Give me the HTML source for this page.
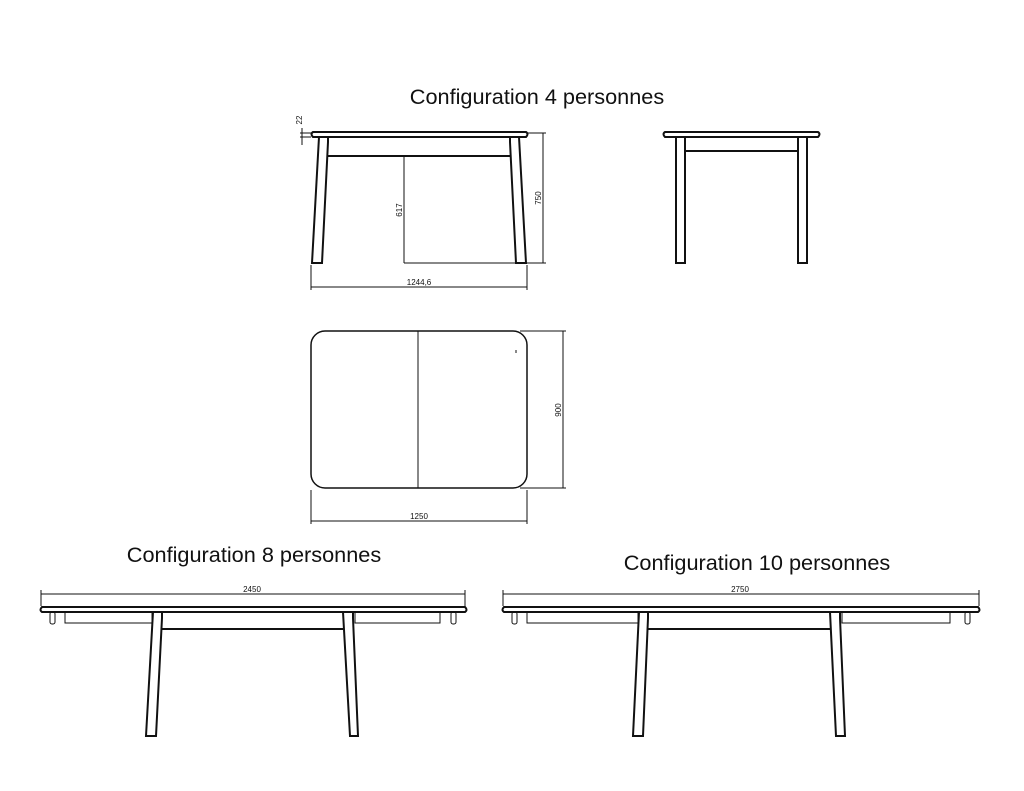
<!DOCTYPE html>
<html><head><meta charset="utf-8"><style>
html,body{margin:0;padding:0;background:#fff}
svg{display:block}
text{font-family:"Liberation Sans",sans-serif;fill:#111}
</style></head><body>
<svg width="1024" height="791" viewBox="0 0 1024 791" xmlns="http://www.w3.org/2000/svg">
<g fill="none" stroke="#111" stroke-width="1">
<text x="537" y="104" font-size="21.7" text-anchor="middle" stroke="none">Configuration 4 personnes</text>
<text x="254" y="562" font-size="21.7" text-anchor="middle" stroke="none">Configuration 8 personnes</text>
<text x="757" y="570" font-size="21.7" text-anchor="middle" stroke="none">Configuration 10 personnes</text>

<!-- front 4p -->
<path d="M313 132 H526 Q529 134 526 137 H313 Q310 134 313 132Z" stroke-width="2"/>
<path d="M319 137 L312 263 H322 L328 142 L328 137 Z" stroke-width="2"/>
<path d="M519 137 L526 263 H516 L510 142 L510 137 Z" stroke-width="2"/>
<line x1="328" y1="156" x2="510" y2="156" stroke-width="2"/>
<line x1="404" y1="157" x2="404" y2="263"/><line x1="404" y1="263" x2="516" y2="263"/>
<text x="402" y="210" font-size="8" transform="rotate(-90 402 210)" text-anchor="middle" stroke="none">617</text>
<line x1="528" y1="133" x2="546" y2="133"/><line x1="526" y1="263" x2="546" y2="263"/>
<line x1="543" y1="133" x2="543" y2="263"/>
<text x="541" y="198" font-size="8" transform="rotate(-90 541 198)" text-anchor="middle" stroke="none">750</text>
<line x1="311" y1="265" x2="311" y2="290"/><line x1="527" y1="265" x2="527" y2="290"/>
<line x1="311" y1="287" x2="527" y2="287"/>
<text x="419" y="285" font-size="8" text-anchor="middle" stroke="none">1244,6</text>
<line x1="302" y1="128" x2="302" y2="145"/><line x1="300" y1="133" x2="311" y2="133"/><line x1="300" y1="137" x2="311" y2="137"/>
<text x="302" y="120" font-size="8" transform="rotate(-90 302 120)" text-anchor="middle" stroke="none">22</text>

<!-- side -->
<path d="M665 132 H818 Q821 134 818 137 H665 Q662 134 665 132Z" stroke-width="2"/>
<rect x="676" y="137" width="9" height="126" stroke-width="2"/>
<rect x="798" y="137" width="9" height="126" stroke-width="2"/>
<line x1="685" y1="151" x2="798" y2="151" stroke-width="2"/>

<!-- plan -->
<rect x="311" y="331" width="216" height="157" rx="14" stroke-width="1.5"/>
<line x1="418" y1="331" x2="418" y2="488"/>
<line x1="516" y1="350" x2="516" y2="353"/>
<line x1="520" y1="331" x2="566" y2="331"/><line x1="520" y1="488" x2="566" y2="488"/>
<line x1="563" y1="331" x2="563" y2="488"/>
<text x="561" y="410" font-size="8" transform="rotate(-90 561 410)" text-anchor="middle" stroke="none">900</text>
<line x1="311" y1="490" x2="311" y2="524"/><line x1="527" y1="490" x2="527" y2="524"/>
<line x1="311" y1="521" x2="527" y2="521"/>
<text x="419" y="519" font-size="8" text-anchor="middle" stroke="none">1250</text>

<!-- 8p -->
<line x1="41" y1="594" x2="465" y2="594"/><line x1="41" y1="590" x2="41" y2="606"/><line x1="465" y1="590" x2="465" y2="606"/>
<text x="252" y="592" font-size="8" text-anchor="middle" stroke="none">2450</text>
<path d="M42 607 H465 Q468 610 465 612 H42 Q39 610 42 607Z" stroke-width="2"/>
<rect x="50" y="612" width="5" height="12" rx="2"/><rect x="451" y="612" width="5" height="12" rx="2"/>
<rect x="65" y="612" width="87" height="11"/><rect x="355" y="612" width="85" height="11"/>
<path d="M153 612 L146 736 H156 L162 618 L162 612" stroke-width="2"/>
<path d="M343 612 L350 736 H358 L353 618 L353 612" stroke-width="2"/>
<line x1="162" y1="629" x2="344" y2="629" stroke-width="2"/>

<!-- 10p -->
<line x1="503" y1="594" x2="979" y2="594"/><line x1="503" y1="590" x2="503" y2="606"/><line x1="979" y1="590" x2="979" y2="606"/>
<text x="740" y="592" font-size="8" text-anchor="middle" stroke="none">2750</text>
<path d="M504 607 H978 Q981 610 978 612 H504 Q501 610 504 607Z" stroke-width="2"/>
<rect x="512" y="612" width="5" height="12" rx="2"/><rect x="965" y="612" width="5" height="12" rx="2"/>
<rect x="527" y="612" width="111" height="11"/><rect x="842" y="612" width="108" height="11"/>
<path d="M639 612 L633 736 H643 L648 618 L648 612" stroke-width="2"/>
<path d="M830 612 L836 736 H845 L840 618 L840 612" stroke-width="2"/>
<line x1="648" y1="629" x2="831" y2="629" stroke-width="2"/>
</g>
</svg>
</body></html>
